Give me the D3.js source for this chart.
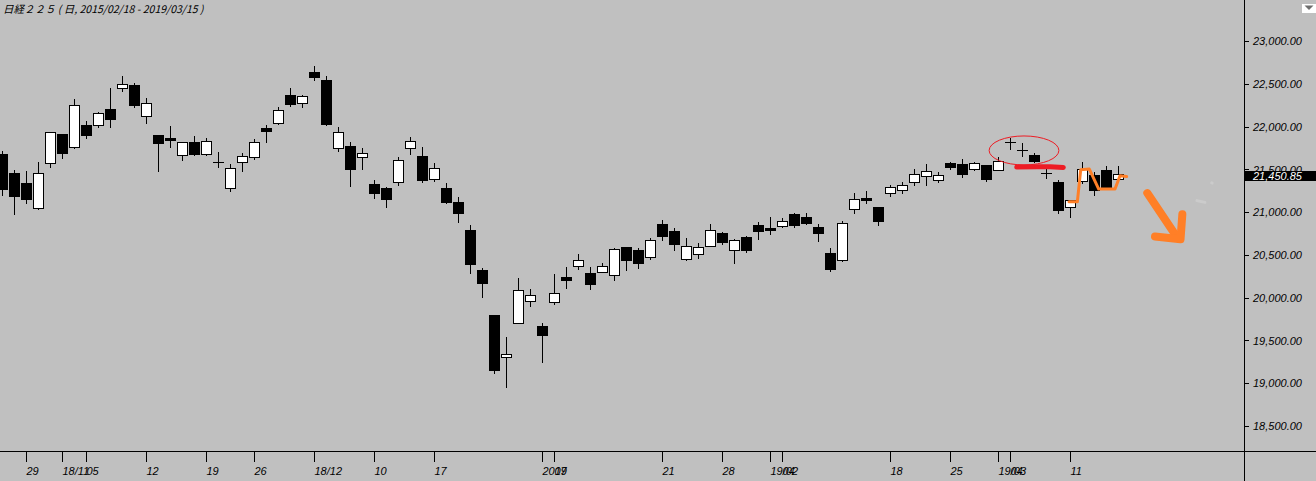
<!DOCTYPE html>
<html><head><meta charset="utf-8">
<script src="https://cdn.jsdelivr.net/npm/d3@7"></script>
<style>body{margin:0;background:#c0c0c0;overflow:hidden} svg{display:block}</style>
</head><body><svg id="c" width="1316" height="481"></svg>
<script>
// ---------- data ----------
const dates = [
"2018-10-25","2018-10-26","2018-10-29","2018-10-30","2018-10-31",
"2018-11-01","2018-11-02","2018-11-05","2018-11-06","2018-11-07","2018-11-08","2018-11-09",
"2018-11-12","2018-11-13","2018-11-14","2018-11-15","2018-11-16","2018-11-19","2018-11-20","2018-11-21","2018-11-22",
"2018-11-26","2018-11-27","2018-11-28","2018-11-29","2018-11-30",
"2018-12-03","2018-12-04","2018-12-05","2018-12-06","2018-12-07","2018-12-10","2018-12-11","2018-12-12","2018-12-13","2018-12-14",
"2018-12-17","2018-12-18","2018-12-19","2018-12-20","2018-12-21","2018-12-25","2018-12-26","2018-12-27","2018-12-28",
"2019-01-04","2019-01-07","2019-01-08","2019-01-09","2019-01-10","2019-01-11","2019-01-15","2019-01-16","2019-01-17","2019-01-18",
"2019-01-21","2019-01-22","2019-01-23","2019-01-24","2019-01-25","2019-01-28","2019-01-29","2019-01-30","2019-01-31",
"2019-02-01","2019-02-04","2019-02-05","2019-02-06","2019-02-07","2019-02-08","2019-02-12","2019-02-13","2019-02-14","2019-02-15",
"2019-02-18","2019-02-19","2019-02-20","2019-02-21","2019-02-22","2019-02-25","2019-02-26","2019-02-27","2019-02-28",
"2019-03-01","2019-03-04","2019-03-05","2019-03-06","2019-03-07","2019-03-08","2019-03-11","2019-03-12","2019-03-13","2019-03-14","2019-03-15"];

const open = [21684,21454,21337,21048,21574,21910,21761,22015,22018,22202,
22451,22482,22123,21898,21863,21668,21816,21679,21590,21287,
21590,21649,21980,22042,22365,22275,22634,22541,21746,21769,
21641,21325,21278,21349,21746,21652,21384,21278,21115,20788,
20320,19794,19307,19700,19961,19665,19946,20238,20367,20285,
20297,20262,20589,20554,20472,20858,20776,20452,20510,20604,
20752,20557,20706,20846,20811,20838,20975,20939,20822,20519,
20440,21036,21161,21056,21223,21258,21352,21422,21375,21571,
21559,21504,21547,21492,21820,21726,21664,21462,21349,21060,
21364,21430,21489,21384];

const high = [21711,21489,21477,21582,21940,21915,22319,22061,22170,22447,
22587,22506,22330,21900,22003,21820,21886,21863,21699,21559,
21687,21851,22015,22225,22447,22365,22704,22587,21991,21816,
21746,21372,21290,21641,21874,21758,21571,21337,21173,20846,
20343,19795,19537,20226,20098,19700,20273,20355,20507,20355,
20402,20577,20590,20577,20694,20904,20811,20694,20635,20858,
20764,20682,20717,20881,20939,20928,20986,20986,20858,20577,
20893,21220,21243,21060,21313,21349,21500,21559,21465,21590,
21617,21586,21550,21649,21866,21804,21687,21509,21372,21140,
21586,21465,21536,21536];

const low = [21205,20975,21111,21036,21527,21632,21746,21863,21991,21995,
22416,22229,22042,21481,21761,21609,21664,21664,21527,21247,
21481,21621,21820,22030,22237,22229,22544,22020,21711,21302,
21500,21162,21056,21313,21676,21349,21360,21103,20881,20285,
20004,19116,18952,19700,19899,19245,19922,20110,20332,20098,
20297,20203,20320,20343,20449,20671,20557,20440,20464,20604,
20627,20405,20534,20682,20741,20826,20822,20858,20659,20308,
20429,20990,21103,20846,21188,21223,21317,21317,21352,21500,
21410,21492,21364,21490,21742,21656,21582,21403,20990,20943,
21345,21200,21275,21384];

const close = [21270,21188,21153,21462,21933,21691,22248,21901,22155,22088,
22494,22252,22272,21808,21843,21816,21679,21828,21590,21512,
21652,21816,21948,22190,22260,22354,22576,22026,21933,21500,
21687,21220,21150,21606,21828,21372,21512,21115,20986,20390,
20168,19151,19338,20086,20028,19560,20051,20203,20437,20156,
20367,20565,20437,20402,20671,20717,20624,20600,20589,20788,
20651,20671,20557,20779,20788,20893,20846,20869,20752,20332,
20869,21150,21138,20893,21290,21313,21442,21477,21430,21527,
21442,21571,21384,21602,21820,21726,21594,21462,21025,21138,
21509,21263,21275,21450.85];

const yTicks = [18500,19000,19500,20000,20500,21000,21500,22000,22500,23000];
const xTickDates = ["2018-10-29","2018-11-01","2018-11-05","2018-11-12","2018-11-19","2018-11-26",
"2018-12-03","2018-12-10","2018-12-17","2019-01-04","2019-01-07","2019-01-21","2019-01-28",
"2019-02-01","2019-02-04","2019-02-18","2019-02-25","2019-03-01","2019-03-04","2019-03-11"];
const xTickLabels = ["29","18/11","05","12","19","26","18/12","10","17","2019","07","21","28",
"19/02","04","18","25","19/03","04","11"];
const titleText = "日経２２５ ( 日, 2015/02/18 - 2019/03/15 )";
const lastPrice = 21450.85;

// hand-drawn annotations, in [bar index, price] units
const ellipseBox = [[82.22, 21896], [88.03, 21557]];
const redLine = [[84.52, 21532], [86.2, 21537], [87.3, 21535], [88.4, 21528]];
const orangePath = [[88.875,21126],[89.57,21126],[89.85,21500],[90.57,21509],[91.35,21275],[92.71,21275],[93.125,21430],[93.68,21422]];
const arrowShaft = [[95.4,21228],[97.875,20711]];
const arrowHead = [[96.04,20721],[98.17,20688],[98.32,20980]];
const faintMarks = [[[99.54,21140],[100.2,21120]],[[100.77,21348],[100.8,21346]]];

// ---------- drawing ----------
const W = 1316, H = 481;
const svg = d3.select("#c");
svg.append("rect").attr("width", W).attr("height", H).attr("fill", "#c0c0c0");

const x = d3.scalePoint().domain(dates).range([2.5, 1118.5]);
const xi = d3.scaleLinear().domain([0, dates.length - 1]).range([2.5, 1118.5]);
const y = d3.scaleLinear().domain([18500, 23000]).range([426.5, 41.5]);
const py = v => Math.floor(y(v)) + 0.5;

const candles = dates.map((d, i) => ({d, o: open[i], h: high[i], l: low[i], c: close[i]}));

const g = svg.append("g").attr("shape-rendering", "crispEdges");
g.selectAll("line.wick").data(candles).join("line")
  .attr("class", "wick")
  .attr("x1", d => x(d.d)).attr("x2", d => x(d.d))
  .attr("y1", d => Math.floor(y(d.h))).attr("y2", d => Math.floor(y(d.l)) + 1)
  .attr("stroke", "#000").attr("stroke-width", 1);

g.selectAll("rect.body").data(candles.filter(d => d.o !== d.c)).join("rect")
  .attr("class", "body")
  .attr("x", d => x(d.d) - 5)
  .attr("y", d => py(Math.max(d.o, d.c)))
  .attr("width", 10)
  .attr("height", d => Math.max(1, py(Math.min(d.o, d.c)) - py(Math.max(d.o, d.c))))
  .attr("fill", d => d.c > d.o ? "#fff" : "#000")
  .attr("stroke", "#000").attr("stroke-width", 1);

g.selectAll("line.doji").data(candles.filter(d => d.o === d.c)).join("line")
  .attr("class", "doji")
  .attr("x1", d => x(d.d) - 5.5).attr("x2", d => x(d.d) + 5.5)
  .attr("y1", d => py(d.c)).attr("y2", d => py(d.c))
  .attr("stroke", "#000").attr("stroke-width", 1);

// annotations
const line = d3.line().x(p => xi(p[0])).y(p => y(p[1]));
const ex0 = xi(ellipseBox[0][0]), ex1 = xi(ellipseBox[1][0]);
const ey0 = y(ellipseBox[0][1]), ey1 = y(ellipseBox[1][1]);
svg.append("ellipse")
  .attr("cx", (ex0 + ex1) / 2).attr("cy", (ey0 + ey1) / 2)
  .attr("rx", (ex1 - ex0) / 2).attr("ry", (ey1 - ey0) / 2)
  .attr("fill", "none").attr("stroke", "#ed1c24").attr("stroke-width", 1);
svg.append("path").attr("d", line(redLine))
  .attr("fill", "none").attr("stroke", "#ed1c24").attr("stroke-width", 5)
  .attr("stroke-linecap", "round").attr("stroke-linejoin", "round");
svg.append("path").attr("d", line(orangePath))
  .attr("fill", "none").attr("stroke", "#ff7f27").attr("stroke-width", 3)
  .attr("stroke-linecap", "round").attr("stroke-linejoin", "round");
svg.append("path").attr("d", line(arrowShaft))
  .attr("fill", "none").attr("stroke", "#ff7f27").attr("stroke-width", 8)
  .attr("stroke-linecap", "round").attr("stroke-linejoin", "round");
svg.append("path").attr("d", line(arrowHead))
  .attr("fill", "none").attr("stroke", "#ff7f27").attr("stroke-width", 8)
  .attr("stroke-linecap", "round").attr("stroke-linejoin", "round");
faintMarks.forEach(m => svg.append("path").attr("d", line(m))
  .attr("fill", "none").attr("stroke", "#cbcbcb").attr("stroke-width", 3)
  .attr("stroke-linecap", "round"));

// frame lines
svg.append("line").attr("x1", 0).attr("x2", W).attr("y1", 451.5).attr("y2", 451.5)
  .attr("stroke", "#000").attr("shape-rendering", "crispEdges");
svg.append("line").attr("x1", 1244.5).attr("x2", 1244.5).attr("y1", 0).attr("y2", H)
  .attr("stroke", "#000").attr("shape-rendering", "crispEdges");

const numFont = "'Liberation Sans Narrow','Liberation Sans',Arial,sans-serif";

// right axis
const yAxis = d3.axisRight(y).tickValues(yTicks).tickSize(5).offset(0)
  .tickFormat(d3.format(",.2f"));
const ya = svg.append("g").attr("transform", "translate(1244,0)").call(yAxis);
ya.select(".domain").remove();
ya.selectAll(".tick line").attr("stroke", "#000").attr("shape-rendering", "crispEdges");
ya.selectAll(".tick text").attr("x", 9).attr("dy", "0.34em")
  .attr("font-family", numFont).attr("font-size", 11).attr("font-style", "italic")
  .attr("fill", "#000").attr("text-anchor", "start");

// bottom axis
const xAxis = d3.axisBottom(x).tickValues(xTickDates).tickSize(11).offset(0)
  .tickFormat((d, i) => xTickLabels[i]);
const xa = svg.append("g").attr("transform", "translate(0,451)").call(xAxis);
xa.select(".domain").remove();
xa.selectAll(".tick line").attr("stroke", "#000").attr("shape-rendering", "crispEdges");
xa.selectAll(".tick text").attr("x", 0).attr("y", 24).attr("dy", 0)
  .attr("font-family", numFont).attr("font-size", 11).attr("font-style", "italic")
  .attr("fill", "#000").attr("text-anchor", "start");

// last price box
const ly = y(lastPrice);
svg.append("rect").attr("x", 1244).attr("y", Math.floor(ly) - 3).attr("width", W - 1244).attr("height", 9.5)
  .attr("fill", "#000").attr("shape-rendering", "crispEdges");
svg.append("text").attr("x", 1253).attr("y", Math.floor(ly) + 5.5)
  .attr("font-family", numFont).attr("font-size", 11).attr("font-style", "italic")
  .attr("fill", "#fff").text(d3.format(",.2f")(lastPrice));

// dropdown button
svg.append("rect").attr("x", 1302).attr("y", 4).attr("width", 14).attr("height", 9)
  .attr("fill", "#fff").attr("shape-rendering", "crispEdges");
svg.append("path").attr("d", "M1304.5,5.5 L1313.5,5.5 L1309,10 Z").attr("fill", "#6e6e6e");

// title
svg.append("text").attr("x", 3).attr("y", 12.5)
  .attr("font-family", "'Noto Sans CJK JP',sans-serif").attr("font-size", 10.5)
  .attr("font-style", "italic").attr("fill", "#000").text(titleText);
</script></body></html>
